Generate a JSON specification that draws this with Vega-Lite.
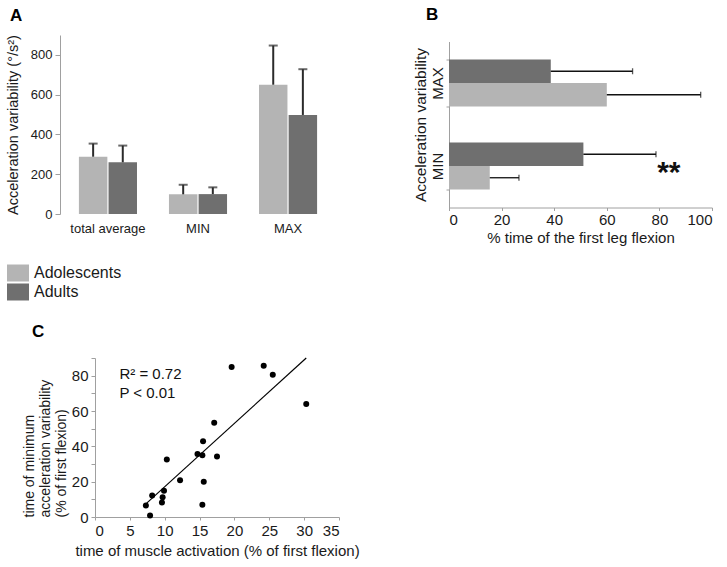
{
  "$schema": "https://vega.github.io/schema/vega-lite/v6.json",
  "padding": {"left": 5, "top": 5, "right": 5, "bottom": 5},
  "background": "white",
  "config": {
    "font": "Liberation Sans",
    "view": {"stroke": null},
    "axis": {"domainColor": "#a0a0a0", "tickColor": "#a0a0a0", "labelColor": "#1a1a1a", "titleColor": "#1a1a1a", "titleFontWeight": "normal", "grid": false, "labelFont": "Liberation Sans", "titleFont": "Liberation Sans", "labelOverlap": false},
    "title": {"font": "Liberation Sans", "fontWeight": "bold", "fontSize": 17, "anchor": "start", "frame": "group", "color": "#000000", "baseline": "alphabetic"}
  },
  "datasets": {
    "a": [
      {"measure": "total average", "group": "Adolescents", "mean": 288, "upper": 354},
      {"measure": "total average", "group": "Adults", "mean": 260, "upper": 344},
      {"measure": "MIN", "group": "Adolescents", "mean": 99, "upper": 147},
      {"measure": "MIN", "group": "Adults", "mean": 100, "upper": 134},
      {"measure": "MAX", "group": "Adolescents", "mean": 650, "upper": 847},
      {"measure": "MAX", "group": "Adults", "mean": 498, "upper": 728}
    ],
    "b": [
      {"measure": "MAX", "group": "Adults", "mean": 38.7, "upper": 69.8},
      {"measure": "MAX", "group": "Adolescents", "mean": 60, "upper": 95.7},
      {"measure": "MIN", "group": "Adults", "mean": 51.1, "upper": 78.7},
      {"measure": "MIN", "group": "Adolescents", "mean": 15.5, "upper": 26.6}
    ],
    "c": [
      {"activation": 7.3, "minvar": 6.5},
      {"activation": 7.9, "minvar": 0.9},
      {"activation": 8.2, "minvar": 12.1},
      {"activation": 9.9, "minvar": 14.8},
      {"activation": 9.7, "minvar": 11.2},
      {"activation": 9.6, "minvar": 8.2},
      {"activation": 10.3, "minvar": 32.6},
      {"activation": 12.2, "minvar": 20.8},
      {"activation": 14.7, "minvar": 35.6},
      {"activation": 15.4, "minvar": 35.0},
      {"activation": 15.5, "minvar": 42.9},
      {"activation": 15.6, "minvar": 20.0},
      {"activation": 15.4, "minvar": 6.9},
      {"activation": 17.1, "minvar": 53.4},
      {"activation": 17.5, "minvar": 34.3},
      {"activation": 19.6, "minvar": 84.9},
      {"activation": 24.2, "minvar": 85.6},
      {"activation": 25.5, "minvar": 80.5},
      {"activation": 30.3, "minvar": 63.9}
    ],
    "fit": [
      {"activation": 7.3, "minvar": 7.4},
      {"activation": 30.3, "minvar": 90}
    ]
  },
  "bounds": "flush",
  "spacing": 323,
  "resolve": {"scale": {"color": "shared"}},
  "vconcat": [
    {
      "bounds": "flush",
      "spacing": 113,
      "center": true,
      "hconcat": [
        {
          "data": {"name": "a"},
          "width": 276,
          "height": 179,
          "title": {"text": "A", "dx": -50, "offset": 10},
          "encoding": {
            "x": {"field": "measure", "type": "nominal", "sort": ["total average", "MIN", "MAX"],
              "scale": {"paddingInner": 0.355, "paddingOuter": 0.21},
              "axis": {"title": null, "domain": false, "ticks": false, "labelAngle": 0, "labelFontSize": 13, "labelPadding": 8}},
            "xOffset": {"field": "group", "type": "nominal", "sort": ["Adolescents", "Adults"], "scale": {"paddingInner": 0.04}}
          },
          "layer": [
            {
              "mark": {"type": "bar"},
              "encoding": {
                "y": {"field": "mean", "type": "quantitative", "scale": {"domain": [0, 900], "nice": false},
                  "axis": {"values": [0, 100, 200, 300, 400, 500, 600, 700, 800, 900], "labelExpr": "datum.value % 200 === 0 ? datum.label : ''", "labelOverlap": false,
                    "tickSize": 5, "labelPadding": 3, "labelFontSize": 13, "title": "Acceleration variability (°/s²)", "titleFontSize": 14.5, "titlePadding": 10}},
                "color": {"field": "group", "type": "nominal", "scale": {"domain": ["Adolescents", "Adults"], "range": ["#b4b4b4", "#6f6f6f"]},
                  "legend": {"orient": "none", "legendX": -52, "legendY": 228, "title": null, "symbolType": "M-1.1,-0.85H1.1V0.85H-1.1Z", "symbolSize": 400, "symbolStrokeWidth": 0, "symbolOpacity": 1, "labelFontSize": 16, "labelOffset": 6, "rowPadding": -2, "labelColor": "#1a1a1a"}}
              }
            },
            {
              "mark": {"type": "rule", "color": "#2b2b2b", "strokeWidth": 2},
              "encoding": {"y": {"field": "mean", "type": "quantitative"}, "y2": {"field": "upper"}}
            },
            {
              "mark": {"type": "tick", "color": "#2b2b2b", "thickness": 2, "size": 9},
              "encoding": {"y": {"field": "upper", "type": "quantitative"}}
            }
          ]
        },
        {
          "data": {"name": "b"},
          "width": 263,
          "height": 166,
          "title": {"text": "B", "dx": -23, "offset": 18},
          "encoding": {
            "y": {"field": "measure", "type": "nominal", "sort": ["MAX", "MIN"],
              "scale": {"paddingInner": 0.434, "paddingOuter": 0.217},
              "axis": {"title": "Acceleration variability", "titleFontSize": 15.5, "titlePadding": 2, "labelAngle": -90, "tickBand": "extent", "labelFontSize": 15, "labelPadding": 1, "tickSize": 3}},
            "yOffset": {"field": "group", "type": "nominal", "sort": ["Adults", "Adolescents"], "scale": {"paddingInner": 0}}
          },
          "layer": [
            {
              "mark": {"type": "bar"},
              "encoding": {
                "x": {"field": "mean", "type": "quantitative", "scale": {"domain": [0, 100], "nice": false},
                  "axis": {"values": [0, 20, 40, 60, 80, 100], "labelOverlap": false, "tickSize": 3, "labelPadding": 2, "labelFontSize": 15, "title": "% time of the first leg flexion", "titleFontSize": 15, "titlePadding": 3}},
                "color": {"field": "group", "type": "nominal"}
              }
            },
            {
              "mark": {"type": "rule", "color": "#111111", "strokeWidth": 1.3},
              "encoding": {"x": {"field": "mean", "type": "quantitative"}, "x2": {"field": "upper"}}
            },
            {
              "mark": {"type": "tick", "color": "#111111", "thickness": 1.3, "size": 6},
              "encoding": {"x": {"field": "upper", "type": "quantitative"}}
            },
            {
              "data": {"values": [{}]},
              "mark": {"type": "text", "text": "**", "fontSize": 30, "fontWeight": "bold", "align": "center", "baseline": "alphabetic", "dy": 4, "color": "#111111"},
              "encoding": {"x": {"datum": 83.6, "type": "quantitative"}, "y": {"datum": "MIN"}, "yOffset": {"datum": "Adolescents"}}
            }
          ]
        }
      ]
    },
    {
      "bounds": "flush",
      "spacing": 34,
      "hconcat": [
        {
          "width": 1,
          "height": 1,
          "data": {"values": [{}]},
          "mark": {"type": "point", "opacity": 0}
        },
        {
          "width": 244,
          "height": 159,
          "title": {"text": "C", "dx": -63, "offset": 10},
          "layer": [
            {
              "encoding": {
                "x": {"field": "activation", "type": "quantitative", "scale": {"domain": [0, 35], "nice": false},
                  "axis": {"values": [0, 5, 10, 15, 20, 25, 30, 35], "labelOverlap": false, "tickSize": 3, "labelPadding": 3, "labelFontSize": 15, "title": "time of muscle activation (% of first flexion)", "titleFontSize": 15, "titlePadding": 5}},
                "y": {"field": "minvar", "type": "quantitative", "scale": {"domain": [0, 90], "nice": false},
                  "axis": {"values": [0, 10, 20, 30, 40, 50, 60, 70, 80, 90], "labelExpr": "datum.value % 20 === 0 ? datum.label : ''", "labelOverlap": false, "tickSize": 4, "labelPadding": 3, "labelFontSize": 15,
                    "title": ["time of minimum", "acceleration variability", "(% of first flexion)"], "titleFontSize": 14, "titleLineHeight": 16, "titleAnchor": "start", "titleAlign": "left", "titlePadding": 3}}
              },
              "layer": [
                {
                  "data": {"name": "c"},
                  "mark": {"type": "point", "filled": true, "color": "#000000", "opacity": 1, "size": 36}
                },
                {
                  "data": {"name": "fit"},
                  "mark": {"type": "line", "color": "#000000", "strokeWidth": 1.2}
                }
              ]
            },
            {
              "data": {"values": [{}]},
              "mark": {"type": "text", "fontSize": 15, "align": "left", "baseline": "middle", "color": "#111111", "lineHeight": 19},
              "encoding": {
                "text": {"value": ["R² = 0.72", "P < 0.01"]},
                "x": {"datum": 3.5, "type": "quantitative",
                  "axis": {"values": [0, 5, 10, 15, 20, 25, 30, 35], "labelOverlap": false, "tickSize": 3, "labelPadding": 3, "labelFontSize": 15, "title": "time of muscle activation (% of first flexion)", "titleFontSize": 15, "titlePadding": 5}},
                "y": {"datum": 81.2, "type": "quantitative",
                  "axis": {"values": [0, 10, 20, 30, 40, 50, 60, 70, 80, 90], "labelExpr": "datum.value % 20 === 0 ? datum.label : ''", "labelOverlap": false, "tickSize": 4, "labelPadding": 3, "labelFontSize": 15,
                    "title": ["time of minimum", "acceleration variability", "(% of first flexion)"], "titleFontSize": 14, "titleLineHeight": 16, "titleAnchor": "start", "titleAlign": "left", "titlePadding": 3}}
              }
            }
          ]
        }
      ]
    }
  ]
}
